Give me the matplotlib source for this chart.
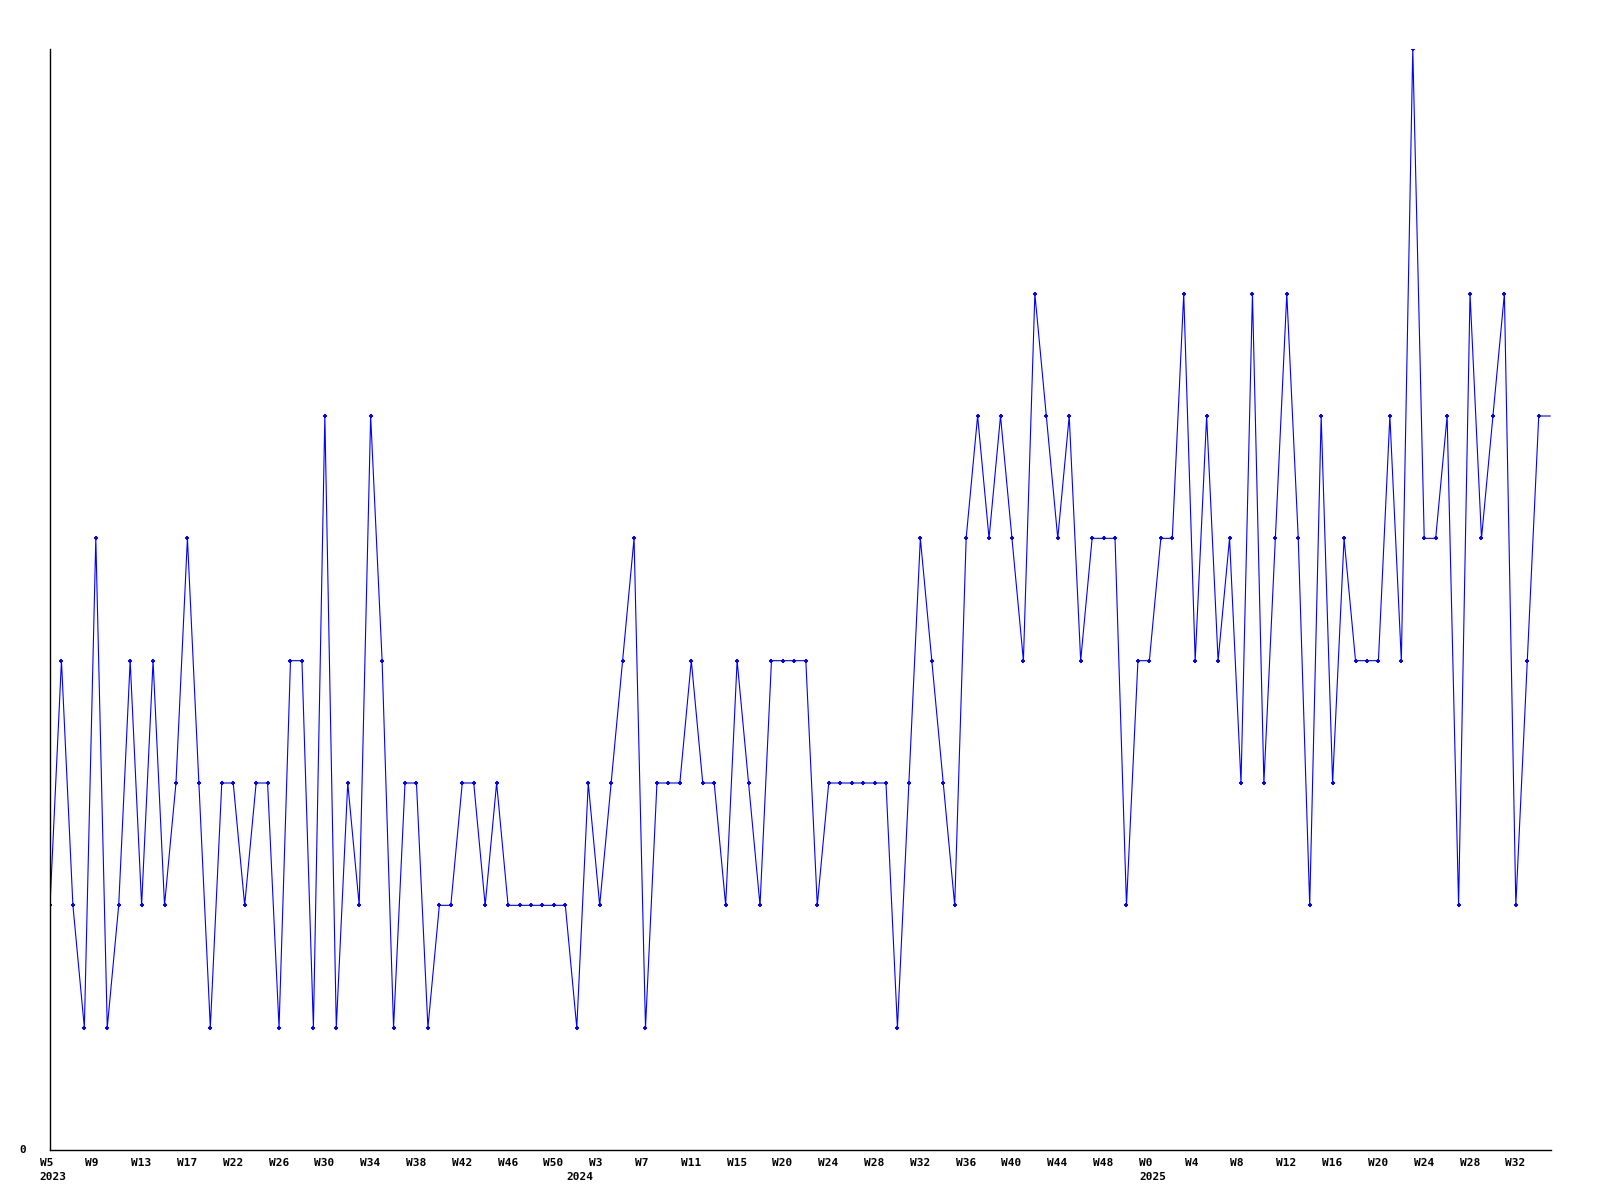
import matplotlib
matplotlib.use("Agg")
import matplotlib.pyplot as plt
import matplotlib.transforms as mtransforms

# weekly counts, one per plotted week (last value runs off the right edge)
values = [
    2, 4, 2, 1, 5, 1, 2, 4, 2, 4, 2, 3, 5, 3, 1, 3, 3, 2, 3, 3,
    1, 4, 4, 1, 6, 1, 3, 2, 6, 4, 1, 3, 3, 1, 2, 2, 3, 3, 2, 3,
    2, 2, 2, 2, 2, 2, 1, 3, 2, 3, 4, 5, 1, 3, 3, 3, 4, 3, 3, 2,
    4, 3, 2, 4, 4, 4, 4, 2, 3, 3, 3, 3, 3, 3, 1, 3, 5, 4, 3, 2,
    5, 6, 5, 6, 5, 4, 7, 6, 5, 6, 4, 5, 5, 5, 2, 4, 4, 5, 5, 7,
    4, 6, 4, 5, 3, 7, 3, 5, 7, 5, 2, 6, 3, 5, 4, 4, 4, 6, 4, 9,
    5, 5, 6, 2, 7, 5, 6, 7, 2, 4, 6, 6,
]

tick_labels = [
    "W5", "W9", "W13", "W17", "W22", "W26", "W30", "W34", "W38", "W42",
    "W46", "W50", "W3", "W7", "W11", "W15", "W20", "W24", "W28", "W32",
    "W36", "W40", "W44", "W48", "W0", "W4", "W8", "W12", "W16", "W20",
    "W24", "W28", "W32",
]
tick_every = 4

years = ["2023", "2024", "2025"]
year_index = [0, 46, 96]

font = {"family": "DejaVu Sans Mono", "weight": "bold", "size": 8}

fig = plt.figure(figsize=(16, 12), dpi=100)
ax = fig.add_axes([50 / 1600, 1 - 1150 / 1200, 1501 / 1600, 1101 / 1200])

x = list(range(len(values)))
# the final value only carries the line to the edge, no marker
ax.plot(x, values, color="#0000ff", linewidth=0.8, marker="+",
        markersize=3.5, markeredgewidth=1.4,
        markevery=list(range(len(values) - 1)))

ax.set_xlim(0, 131.07)
ax.set_ylim(0, 9)

for side in ["top", "right"]:
    ax.spines[side].set_visible(False)
for side in ["left", "bottom"]:
    ax.spines[side].set_color("black")
    ax.spines[side].set_linewidth(1)

ax.set_xticks(range(0, len(tick_labels) * tick_every, tick_every))
ax.set_xticklabels(tick_labels, ha="left", **font)
ax.set_yticks([0])
ax.set_yticklabels(["0"], va="center", **font)
ax.tick_params(axis="x", length=0, pad=5.5)
ax.tick_params(axis="y", length=0, pad=17)

shift = mtransforms.ScaledTranslation(-0.105, 0, fig.dpi_scale_trans)
for lab in ax.get_xticklabels():
    lab.set_transform(lab.get_transform() + shift)

for year, idx in zip(years, year_index):
    ax.annotate(year, xy=(idx, 0), xycoords=("data", "axes fraction"),
                xytext=(-7.5, -16), textcoords="offset points",
                ha="left", va="top", **font)

fig.savefig("out.png", dpi=100)
